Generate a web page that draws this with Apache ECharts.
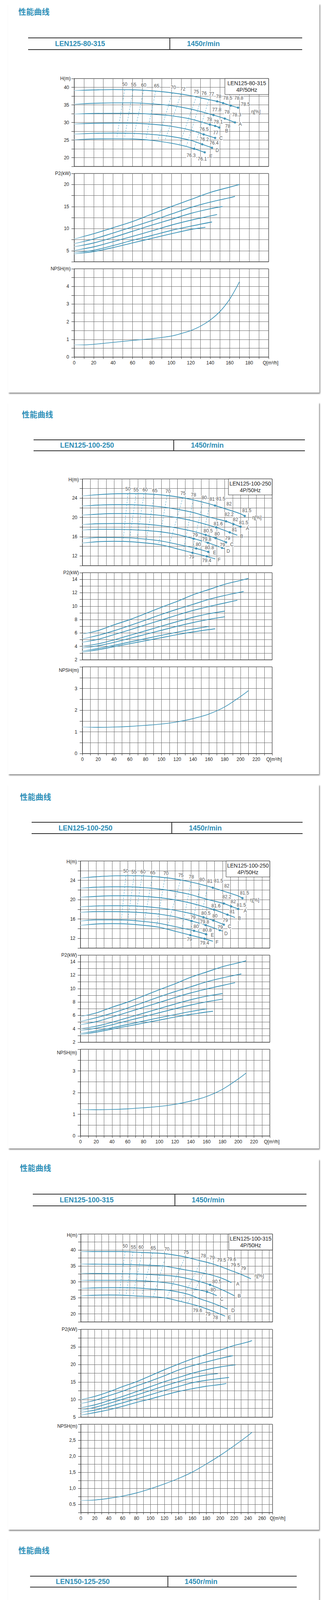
<!DOCTYPE html>
<html><head><meta charset="utf-8">
<script src="https://cdn.jsdelivr.net/npm/echarts@6/dist/echarts.min.js"></script>
<style>
html,body{margin:0;padding:0;background:#fff;}
#page{position:relative;width:835px;height:4883px;overflow:hidden;}
.card{position:absolute;background:#fff;box-shadow:2px 3px 3px rgba(0,0,0,0.45);}
.title{position:absolute;font-family:"Noto Sans CJK SC",sans-serif;font-weight:bold;font-size:20px;color:#2d8fb8;line-height:20px;white-space:nowrap;}
.hline{position:absolute;height:2px;background:#2b2b2b;}
.vline{position:absolute;width:2px;background:#2b2b2b;}
.htext{position:absolute;font-family:"Liberation Sans",Arial,sans-serif;font-weight:bold;font-size:18px;color:#2d8db5;line-height:20px;white-space:nowrap;}
.chart{position:absolute;left:0;width:835px;z-index:2;}
</style></head>
<body><div id="page"></div>
<script>
// ---------------- DATA ----------------
// Panel 1: LEN125-80-315
const P1_Q_AXIS = [0, 200, 10, 20];
const P1_H_AXIS = [17.5, 42.5, 2.5, 5];
const P1_P_AXIS = [2.5, 22.5, 2.5, 5];
const P1_N_AXIS = [0, 5, 0.5, 1];
const P1_H = [
  [[0,39.1],[20,39.25],[40,39.35],[60,39.3],[80,39.0],[100,38.45],[120,37.6],[140,36.4],[147.1,36.0],[153.2,35.5],[161.1,34.8],[168.6,34.2]],
  [[0,35.2],[20,35.45],[40,35.57],[60,35.57],[80,35.3],[100,34.8],[120,33.8],[143.3,32.1],[154.9,31.1],[165.4,30.0]],
  [[0,32.4],[20,32.55],[40,32.6],[60,32.6],[80,32.36],[100,31.9],[120,30.96],[139.6,29.4],[145,29.0],[149.3,28.56]],
  [[0,29.56],[20,29.75],[40,29.8],[60,29.78],[80,29.5],[100,28.9],[120,27.8],[133.2,26.6],[145,25.6]],
  [[0,26.7],[20,26.9],[40,26.97],[60,26.9],[80,26.6],[100,26.0],[120,24.9],[131.7,23.8],[141.8,22.8]],
  [[0,25.1],[20,25.3],[40,25.35],[60,25.3],[80,24.9],[100,24.1],[112,23.4],[123.5,22.5],[134.3,21.5]]
];
const P1_P = [
  [[0,7.65],[20,8.84],[40,10.2],[60,11.6],[80,13.3],[100,15.0],[120,16.6],[140,18.2],[160,19.4],[170,20.0]],
  [[0,6.6],[20,7.65],[40,9.0],[60,10.4],[80,11.8],[100,13.3],[120,14.8],[140,16.0],[160,17.0],[165.4,17.3]],
  [[0,5.9],[20,6.75],[40,8.0],[60,9.4],[80,10.8],[100,12.1],[120,13.45],[140,14.5],[152.5,15.0]],
  [[0,5.06],[20,5.86],[40,7.05],[60,8.24],[80,9.5],[100,10.8],[120,11.9],[140,12.86],[147,13.2]],
  [[0,4.6],[20,5.1],[40,6.16],[60,7.35],[80,8.45],[100,9.6],[120,10.56],[141.8,11.5]],
  [[0,4.28],[20,4.8],[40,5.7],[60,6.76],[80,7.8],[100,8.84],[120,9.8],[135,10.3]]
];
const P1_N = [[0,0.69],[10,0.69],[20,0.72],[40,0.83],[60,0.94],[80,1.04],[100,1.19],[110,1.33],[120,1.5],[130,1.75],[140,2.1],[150,2.58],[160,3.28],[170,4.26]];
const P1_ISO = [
  [[52,39.3],[44,26.0]],[[60.6,39.3],[52,26.0]],[[71.5,39.2],[61.2,26.0]],[[83.8,38.9],[74,25.6]],
  [[101,38.45],[86,24.9]],[[110,38.15],[93.4,24.9]],[[125.7,37.4],[108.5,23.8]],[[131,37.0],[115.6,23.4]],[[138.5,36.5],[123.5,22.65]]
];
const P1_ETA = [
  ['50',52,40.8],['55',61.2,40.74],['60',71.5,40.66],['65',84.8,40.44],['70',102,40.0],['72',111.7,39.5],
  ['75',125.7,38.7],['76',133.6,38.3],['77',141.3,38.1],['78',148.6,37.4],['78.5',157.9,37.0],['78.8',169.3,37.0],
  ['78.5',176.1,35.2],['77.8',146.7,33.6],['78',157.2,32.9],['78.3',167.1,32.2],['78',139.2,30.8],['78.1',148.2,30.2],
  ['78',157.9,29.0],['76.5',133.6,28.1],['77',145.6,27.1],['76.2',133.8,25.2],['76.4',143.9,24.2],['76.3',120.3,20.6],
  ['76.1',131.7,19.6],['η[%]',186.9,33.1],['A',170.8,29.5],['B',156.8,27.6],['C',151,25.5],['D',147.1,22.1],['E',140.7,20.4]
];
const P1_DOTS = [[147.1,36.0],[153.2,35.5],[161.1,34.8],[168.6,34.2],[143.3,32.1],[154.9,31.1],[165.4,30.0],[139.6,29.4],[145,29.0],[149.3,28.56],[133.2,26.6],[145,25.6],[131.7,23.8],[141.8,22.8],[123.5,22.5],[134.3,21.5]];

// Panel 2 / 3: LEN125-100-250
const P2_Q_AXIS = [0, 240, 10, 20];
const P2_H_AXIS = [10, 28, 2, 4];
const P2_P_AXIS = [2, 15, 1, 2];
const P2_N_AXIS = [0, 4, 0.5, 1];
const P2_H = [
  [[0,24.46],[20,24.73],[40,24.9],[60,24.94],[80,24.9],[100,24.67],[120,24.27],[140,23.65],[160,22.84],[167.8,22.46],[180,21.84],[200,20.76],[205.4,20.3]],
  [[0,22.38],[20,22.57],[40,22.65],[60,22.65],[80,22.5],[100,22.19],[120,21.7],[140,21.03],[160,20.09],[181.8,19.2],[191.1,18.6],[200.1,18.07]],
  [[0,20.5],[20,20.68],[40,20.8],[60,20.8],[80,20.68],[100,20.41],[120,19.95],[140,19.28],[169.2,17.93],[186.3,16.9],[196,16.3]],
  [[0,18.52],[20,18.69],[40,18.74],[60,18.74],[80,18.6],[100,18.28],[120,17.8],[140,17.12],[155.9,16.37],[168.4,15.7],[181.8,14.83]],
  [[0,17.39],[20,17.53],[40,17.53],[60,17.47],[80,17.3],[100,16.99],[120,16.45],[140.6,15.6],[158.6,14.75],[176.6,13.7],[180,13.5]],
  [[0,15.58],[20,15.83],[40,15.83],[60,15.77],[80,15.5],[100,15.1],[120,14.43],[144,13.56],[159.1,12.86],[161,12.75]],
  [[0,14.7],[20,14.97],[40,15.05],[60,14.97],[80,14.7],[100,14.29],[120,13.48],[139.3,12.67],[157.3,11.92],[168,11.4]]
];
const P2_P = [
  [[0,5.84],[20,6.37],[40,7.21],[60,7.99],[80,8.9],[100,9.84],[120,10.72],[140,11.7],[160,12.48],[180,13.26],[200,13.84],[210,14.14]],
  [[0,5.1],[20,5.65],[40,6.33],[60,7.11],[80,7.93],[100,8.77],[120,9.55],[140,10.27],[160,11.01],[180,11.6],[200,12.09],[204,12.19]],
  [[0,4.62],[20,5.06],[40,5.75],[60,6.47],[80,7.21],[100,7.93],[120,8.67],[140,9.36],[160,9.94],[180,10.47],[196,10.88]],
  [[0,4.03],[20,4.38],[40,4.97],[60,5.65],[80,6.33],[100,7.02],[120,7.7],[140,8.34],[160,8.87],[180,9.26]],
  [[0,3.76],[20,4.09],[40,4.6],[60,5.2],[80,5.8],[100,6.4],[120,7.0],[140,7.55],[160,8.03],[180,8.42]],
  [[0,3.3],[20,3.7],[40,4.15],[60,4.65],[80,5.15],[100,5.65],[120,6.12],[140,6.58],[160,6.98]],
  [[0,3.15],[20,3.5],[40,3.95],[60,4.4],[80,4.85],[100,5.3],[120,5.75],[140,6.15],[160,6.5],[168,6.62]]
];
const P2_N = [[0,1.22],[20,1.21],[40,1.22],[60,1.25],[80,1.3],[100,1.36],[120,1.46],[140,1.61],[160,1.82],[180,2.15],[200,2.63],[210,2.9]];
const P2_ISO = [
  [[57.6,24.94],[51.5,15.2]],[[68,24.94],[59.5,15.2]],[[78,24.9],[68.7,15.2]],[[91.2,24.8],[80.6,15.1]],
  [[107,24.5],[96.5,14.5]],[[127,24.1],[110,14.3]],[[140,23.6],[128,13.4]],[[152,22.9],[139,13.0]],[[161,22.6],[149,13.5]]
];
const P2_ETA = [
  ['50',57.6,25.9],['55',67.9,25.75],['60',79.3,25.7],['65',91.7,25.6],['70',108.4,25.4],['75',127.4,25.0],
  ['78',140.6,24.7],['80',154.1,24.1],['81',164.1,23.8],['81.5',175,23.9],['82',185.5,22.8],['81.5',208,21.4],
  ['η[%]',220.7,19.95],['82.2',185.5,20.6],['82',193.7,19.6],['81.5',204,18.9],['81.6',171.8,18.7],['81',192.4,17.5],
  ['80.5',159.1,17.2],['80',170.5,16.6],['79',183.7,15.7],['79',142.7,16.3],['79.8',157.3,15.4],['79',177.1,14.3],
  ['80',146.7,14.4],['80.8',160.7,13.7],['79',138.2,11.8],['79.4',157.3,11.05],
  ['A',208.8,17.7],['B',201.4,16.1],['C',189,14.4],['D',184.5,13.0],['E',167.3,12.7],['F',173.1,11.2]
];
const P2_DOTS = [[167.8,22.46],[205.4,20.3],[181.8,19.2],[191.1,18.6],[200.1,18.07],[169.2,17.93],[186.3,16.9],[155.9,16.37],[168.4,15.7],[181.8,14.83],[140.6,15.6],[158.6,14.75],[176.6,13.7],[144,13.56],[159.1,12.86],[139.3,12.67],[157.3,11.92]];

// Panel 4: LEN125-100-315
const P4_Q_AXIS = [0, 275, 10, 20];
const P4_H_AXIS = [17.5, 45, 2.5, 5];
const P4_P_AXIS = [5, 30, 2.5, 5];
const P4_N_AXIS = [0.25, 3, 0.25, 0.5];
const P4_N_LABELS = [[0.5,'0.5'],[1,'1,0'],[1.5,'1,5'],[2,'2,0'],[2.5,'2,5']];
const P4_H = [
  [[0,39.5],[20,39.5],[40,39.5],[60,39.5],[80,39.3],[100,39.1],[120,38.85],[140,38.2],[150,37.8],[170,36.7],[185,35.9],[199,34.9],[215,33.6],[227,32.6],[244,31.0]],
  [[0,35.6],[20,35.55],[60,35.5],[100,35.2],[121,34.9],[149,33.8],[170,33.0],[185,32.3],[201.6,31.2],[216,29.8]],
  [[0,32.7],[40,32.6],[80,32.5],[100,32.3],[134,31.8],[158.5,30.8],[185.4,29.1],[203,27.5],[220,25.7]],
  [[0,30.5],[60,30.5],[80,30.4],[100,30.2],[130.5,29.5],[158.5,28.0],[181,26.9],[195,25.7]],
  [[0,28.0],[40,28.2],[60,28.2],[80,28.1],[100,27.8],[125,27.4],[153,26.2],[171,24.7],[190,23.3],[210.6,21.5]],
  [[0,25.7],[40,25.9],[60,25.85],[80,25.6],[100,25.4],[121,25.0],[143,23.9],[168,22.5],[186.5,21.1],[207,19.3]]
];
const P4_P = [
  [[0,10.0],[20,10.9],[40,12.2],[60,13.7],[80,15.1],[100,16.8],[120,18.5],[140,20.1],[160,21.6],[180,22.9],[200,24.1],[220,25.4],[240,26.4],[245.5,26.8]],
  [[0,8.9],[20,9.8],[40,11.1],[60,12.4],[80,13.9],[100,15.3],[120,16.8],[140,18.4],[160,19.65],[180,20.7],[200,21.7],[218,22.5]],
  [[0,7.7],[20,8.5],[40,9.7],[60,10.9],[80,12.3],[100,13.7],[120,15.1],[140,16.3],[160,17.5],[180,18.5],[200,19.3],[222,19.9]],
  [[0,7.0],[20,7.8],[40,8.9],[60,10.1],[80,11.3],[100,12.6],[120,13.9],[140,15.1],[160,16.2],[180,17.0],[196.7,17.4]],
  [[0,6.4],[20,7.0],[40,8.0],[60,9.1],[80,10.2],[100,11.4],[120,12.6],[140,13.7],[160,14.8],[180,15.5],[200,16.0],[212.6,16.3]],
  [[0,5.6],[20,6.3],[40,7.1],[60,8.1],[80,9.2],[100,10.2],[120,11.3],[140,12.3],[160,13.1],[180,13.8],[200,14.3],[208.7,14.6]]
];
const P4_N = [[0,0.625],[20,0.64],[40,0.69],[60,0.76],[80,0.86],[100,0.99],[120,1.14],[140,1.31],[160,1.51],[180,1.76],[200,2.03],[220,2.33],[240,2.65],[245.5,2.75]];
const P4_ISO = [
  [[63.5,39.5],[55,26.1]],[[74.8,39.4],[65,26.1]],[[88,39.3],[74.8,26.0]],[[103,39.1],[87.4,25.7]],
  [[122.8,38.8],[104,25.3]],[[149.7,37.8],[123,24.9]],[[172.8,36.7],[144,23.8]],[[184.7,35.95],[153,23.3]]
];
const P4_ETA = [
  ['50',63.5,41.2],['55',75.4,40.85],['60',86.5,40.85],['65',103.9,40.65],['70',123.4,40.25],['75',151.2,39.2],
  ['78',175.7,38.1],['79',188.3,37.5],['79.5',201.8,36.8],['79.6',216.2,37.1],['79.5',221.6,35.2],['79',233.2,34.3],
  ['η[%]',256,31.9],['80.5',195.2,30.1],['80',189.8,27.5],['79.6',167.4,21.0],['79',182.3,19.9],['78',193.1,18.8],
  ['A',225.1,29.4],['B',227.2,25.6],['C',202.1,24.65],['D',218.3,21.0],['E',213.2,18.8]
];
const P4_DOTS = [[185.4,29.1],[181,26.9]];

// Panel 5: LEN150-125-250
const P5_Q_AXIS = [0, 425, 25, 50];
const P5_H_AXIS = [5, 27.5, 2.5, 5];
const P5_P_AXIS = [5, 22.5, 2.5, 5];
const P5_N_AXIS = [1, 4.5, 0.5, 1];
const P5_H = [
  [[0,23.3],[50,23.3],[100,23.27],[125,23.2],[150,23.03],[175,22.8],[200,22.4],[225,21.8],[255.1,21.06],[272.8,20.5],[289.6,19.85],[306.3,19.1],[323,18.4],[350,16.7],[371,15.4]],
  [[0,21.4],[50,21.3],[100,21.1],[150,20.8],[175,20.5],[200,20.1],[225,19.5],[256.5,18.5],[274.2,17.95],[291,17.2],[325,15.6],[340,14.8]],
  [[0,19.2],[50,19.5],[100,19.5],[150,19.2],[175,19.0],[200,18.5],[225,17.8],[250,16.95],[268.5,16.1],[300,14.9],[325,13.9],[351,12.6]],
  [[0,17.5],[50,17.85],[75,17.9],[100,17.8],[150,17.3],[175,17.0],[200,16.4],[225,15.6],[251.3,14.4],[275,13.5],[300,12.6],[336,11.1]],
  [[0,15.95],[50,16.3],[75,16.3],[100,16.1],[150,15.7],[175,15.3],[200,14.7],[225,14.05],[245.5,13.26],[275,12.0],[300,10.6],[322,9.1]],
  [[0,14.8],[50,15.2],[75,15.2],[100,15.0],[125,14.7],[150,14.2],[175,13.7],[200,13.1],[225,12.4],[238.3,11.8],[250,11.4],[275,10.3],[300,8.9],[321,7.4]]
];
const P5_P = [
  [[0,9.15],[25,9.7],[50,10.4],[75,11.4],[100,12.4],[125,13.3],[150,14.2],[175,15.2],[200,16.1],[225,17.0],[250,17.8],[275,18.45],[300,19.1],[325,19.65],[350,20.0],[371,20.2]],
  [[0,8.5],[25,8.9],[50,9.55],[75,10.4],[100,11.2],[125,12.04],[150,12.85],[175,13.65],[200,14.45],[225,15.2],[250,16.0],[275,16.5],[300,16.9],[325,17.3],[340,17.6]],
  [[0,7.55],[25,8.1],[50,8.9],[75,9.6],[100,10.3],[125,10.95],[150,11.6],[175,12.3],[200,12.95],[225,13.6],[250,14.2],[275,14.6],[300,14.96],[325,15.2],[351,15.3]],
  [[0,6.5],[25,7.0],[50,7.6],[75,8.25],[100,8.9],[125,9.5],[150,10.1],[175,10.7],[200,11.3],[225,11.75],[250,12.1],[275,12.45],[300,12.7],[334,12.85]],
  [[0,6.2],[25,6.7],[50,7.27],[75,7.8],[100,8.28],[125,8.8],[150,9.3],[175,9.8],[200,10.3],[225,10.7],[250,11.0],[275,11.24],[300,11.35],[322,11.37]],
  [[0,5.67],[25,6.2],[50,6.74],[75,7.3],[100,7.8],[125,8.25],[150,8.67],[175,9.0],[200,9.28],[225,9.55],[250,9.77],[275,9.9],[300,9.96],[321,9.96]]
];
const P5_N = [[0,1.49],[25,1.51],[50,1.51],[75,1.5],[100,1.48],[125,1.48],[150,1.48],[175,1.51],[200,1.57],[225,1.68],[250,1.86],[275,2.13],[300,2.42],[325,2.8],[350,3.41],[371,4.03]];
const P5_ISO = [
  [[98.6,23.3],[90,15.1]],[[112.5,23.3],[104,15.0]],[[128,23.2],[118.7,14.9]],[[149.8,23.0],[133,14.6]],
  [[173.7,22.8],[157,14.2]],[[200,22.4],[181,13.6]],[[228.8,21.7],[204.8,12.9]]
];
const P5_ETA = [
  ['50',94.8,24.6],['55',111.5,24.5],['60',127.3,24.4],['65',148.4,24.5],['70',169.9,24.1],['75',197.7,23.7],
  ['78',215.4,23.5],['80',231.2,23.4],['81',247,23.3],['82',262.3,22.8],['83',280.5,22.8],['83.3',294.3,21.2],
  ['83',314,21.2],['82',326.9,19.75],['81',342.7,19.2],['80',359,18.2],['78',377.1,16.8],['η[%]',394.8,14.5],
  ['81.5',260.8,19.5],['82',279,18.9],['81.5',304.4,17.95],['81.5',265.1,14.9],['75',340.3,11.0],
  ['A',348.4,14.2],['B',359.4,11.6],['C',345,9.4],['D',331.7,8.4],['E',329.3,6.8]
];
const P5_ETA_SMALL = [['80.1',211,11.5],['79',234.5,10.25],['81.5',256.5,9.4]];
const P5_DOTS = [[255.1,21.06],[272.8,20.5],[289.6,19.85],[306.3,19.1],[323,18.4],[256.5,18.5],[274.2,17.95],[291,17.2],[268.5,16.1],[251.3,14.4],[245.5,13.26],[238.3,11.8]];

// ---------------- LAYOUT ----------------
const LAYOUT = [
  {card:[21,9,797,996],   title:[47,30],   hd:[97,127,72,774,435,141,479],     g:[[190,201,498,225],[190,444,498,226],[190,688,498,226]], qGap:5,  nDy:[0,0,0]},
  {card:[21,1030,796,952],title:[56,1061], hd:[1126,1154,86,781,445,154,489],  g:[[211,1226,486,222],[211,1466,486,223],[211,1707,486,222]], qGap:5, nDy:[-2,0,-9]},
  {card:[21,2008,796,932],title:[51,2040], hd:[2105,2134,81,775,440,150,484],  g:[[206,2204,485,223],[206,2445,485,223],[206,2686,485,222]], qGap:5, nDy:[-2,0,-9]},
  {card:[21,2967,796,949],title:[51,2990], hd:[3057,3087,84,785,448,153,491],  g:[[207,3159,491,225],[207,3403,491,225],[207,3646,491,226]], qGap:13, nDy:[-3,0,-5]},
  {card:[21,3936,796,960],title:[47,3969], hd:[4035,4063,77,760,430,143,473],  g:[[199,4132,475,217],[199,4367,475,218],[199,4602,475,218]], qGap:9, nDy:[-2,0,-4]}
];

const PANELS = [
  {model:'LEN125-80-315',  speed:'1450r/min', q:P1_Q_AXIS, h:P1_H_AXIS, p:P1_P_AXIS, n:P1_N_AXIS, H:P1_H, P:P1_P, N:P1_N, iso:P1_ISO, eta:P1_ETA, dots:P1_DOTS},
  {model:'LEN125-100-250', speed:'1450r/min', q:P2_Q_AXIS, h:P2_H_AXIS, p:P2_P_AXIS, n:P2_N_AXIS, H:P2_H, P:P2_P, N:P2_N, iso:P2_ISO, eta:P2_ETA, dots:P2_DOTS},
  {model:'LEN125-100-250', speed:'1450r/min', q:P2_Q_AXIS, h:P2_H_AXIS, p:P2_P_AXIS, n:P2_N_AXIS, H:P2_H, P:P2_P, N:P2_N, iso:P2_ISO, eta:P2_ETA, dots:P2_DOTS},
  {model:'LEN125-100-315', speed:'1450r/min', q:P4_Q_AXIS, h:P4_H_AXIS, p:P4_P_AXIS, n:P4_N_AXIS, nLabels:P4_N_LABELS, H:P4_H, P:P4_P, N:P4_N, iso:P4_ISO, eta:P4_ETA, dots:P4_DOTS},
  {model:'LEN150-125-250', speed:'1450r/min', q:P5_Q_AXIS, h:P5_H_AXIS, p:P5_P_AXIS, n:P5_N_AXIS, H:P5_H, P:P5_P, N:P5_N, iso:P5_ISO, eta:P5_ETA, etaSmall:P5_ETA_SMALL, dots:P5_DOTS}
];

// ---------------- HTML decorations ----------------
const page = document.getElementById('page');
function div(cls, css, text){
  const d = document.createElement('div'); d.className = cls;
  Object.assign(d.style, css); if (text) d.textContent = text;
  page.appendChild(d); return d;
}
PANELS.forEach((pn, i) => {
  const [cx,cy,cw,ch] = LAYOUT[i].card;
  div('card', {left:cx+'px', top:cy+'px', width:cw+'px', height:ch+'px', zIndex:0});
});
PANELS.forEach((pn, i) => {
  const L = LAYOUT[i];
  div('title', {left:L.title[0]+'px', top:(L.title[1]-10)+'px', zIndex:1}, '性能曲线');
  const [y1,y2,x1,x2,xd,tm,ts] = L.hd;
  div('hline', {left:x1+'px', top:(y1-1)+'px', width:(x2-x1)+'px', zIndex:1});
  div('hline', {left:x1+'px', top:(y2-1)+'px', width:(x2-x1)+'px', zIndex:1});
  div('vline', {left:(xd-1)+'px', top:y1+'px', height:(y2-y1)+'px', zIndex:1});
  const my = (y1+y2)/2 - 10;
  div('htext', {left:tm+'px', top:my+'px', zIndex:1}, pn.model);
  div('htext', {left:ts+'px', top:my+'px', zIndex:1}, pn.speed);
});

// ---------------- CHARTS (one SVG instance per panel) ----------------
const FONT = "'Liberation Sans', Arial, sans-serif";
const CURVE = '#3690b5';
const FADE = '#b4d6e4';
const GRIDC = '#6a6a6a';
const AXC = '#2a2a2a';

function fmt(step, max, map){
  return function(v){
    if (map){ for (const [k,t] of map) if (Math.abs(v-k) < 1e-6) return t; return ''; }
    const r = v/step;
    if (Math.abs(r - Math.round(r)) > 1e-6 || Math.abs(v - max) < 1e-6) return '';
    return String(Math.round(v*100)/100);
  };
}
// light start segment (first ~6% of the axis), as in the printed curves
function curveColor(c, qmax){
  const qEnd = c[c.length-1][0];
  const f = Math.min(0.5, (qmax*0.06) / qEnd);
  return new echarts.graphic.LinearGradient(0, 0, 1, 0, [
    {offset:0, color:FADE}, {offset:f, color:CURVE}, {offset:1, color:CURVE}
  ]);
}

PANELS.forEach((pn, i) => {
  const L = LAYOUT[i];
  const top0 = L.g[0][1] - 30;
  const bot0 = L.g[2][1] + L.g[2][3] + 40;
  const el = div('chart', {top:top0+'px', height:(bot0-top0)+'px'});
  const grids = [], xAxes = [], yAxes = [], series = [], graphics = [];
  const ys = [pn.h, pn.p, pn.n];
  const names = ['H(m)', 'P2(kW)', 'NPSH(m)'];
  for (let k = 0; k < 3; k++){
    const gi = k;
    const gl = L.g[k][0], gt = L.g[k][1] - top0, gw = L.g[k][2], gh = L.g[k][3];
    grids.push({left:gl, top:gt, width:gw, height:gh, show:true, borderColor:AXC, borderWidth:1, backgroundColor:'transparent'});
    const bottom = (k === 2);
    xAxes.push({
      type:'value', gridIndex:gi, min:pn.q[0], max:pn.q[1], interval:pn.q[2],
      axisLine:{show:true, onZero:false, lineStyle:{color:AXC, width:1}},
      axisTick:{show:bottom, length:5, lineStyle:{color:AXC}},
      axisLabel:{show:bottom, margin:9, color:'#222', fontSize:12, fontFamily:FONT, formatter:fmt(pn.q[3], pn.q[1])},
      splitLine:{show:true, lineStyle:{color:GRIDC, width:1}},
      name: bottom ? 'Q[m³/h]' : '', nameLocation:'end', nameGap:L.qGap,
      nameTextStyle:{align:'center', verticalAlign:'top', padding:[9,0,0,0], color:'#222', fontSize:12, fontFamily:FONT}
    });
    const ya = ys[k];
    yAxes.push({
      type:'value', gridIndex:gi, min:ya[0], max:ya[1], interval:ya[2],
      axisLine:{show:true, onZero:false, lineStyle:{color:AXC, width:1}},
      axisTick:{show:true, length:7, lineStyle:{color:AXC}},
      axisLabel:{margin:13, color:'#222', fontSize:12, fontFamily:FONT, formatter:fmt(ya[3], ya[1], (k===2 ? pn.nLabels : null))},
      splitLine:{show:true, lineStyle:{color:GRIDC, width:1}},
      name:names[k], nameLocation:'end', nameGap:L.nDy[k],
      nameTextStyle:{align:'right', verticalAlign:'middle', padding:[0,9,0,0], color:'#222', fontSize:12, fontFamily:FONT}
    });
    const curves = k === 0 ? pn.H : (k === 1 ? pn.P : [pn.N]);
    curves.forEach(c => series.push({
      type:'line', xAxisIndex:gi, yAxisIndex:gi, data:c, showSymbol:false, smooth:0.35, silent:true,
      lineStyle:{color:curveColor(c, pn.q[1]), width:k === 2 ? 1.6 : 1.9}, z:3
    }));
    if (k === 0){
      pn.iso.forEach(seg => series.push({
        type:'line', xAxisIndex:gi, yAxisIndex:gi, data:seg, showSymbol:false, silent:true,
        lineStyle:{color:'#4fa3c6', width:1, type:[4,3]}, z:2
      }));
      series.push({
        type:'scatter', xAxisIndex:gi, yAxisIndex:gi, data:pn.dots, symbolSize:6, silent:true,
        itemStyle:{color:'#2f8ab0'}, z:5
      });
      const lab = (arr, fs) => series.push({
        type:'scatter', xAxisIndex:gi, yAxisIndex:gi, symbolSize:1, silent:true, z:6,
        itemStyle:{color:'rgba(0,0,0,0)'},
        data:arr.map(e => ({name:e[0], value:[e[1], e[2]]})),
        label:{show:true, position:'inside', formatter:p => p.name, color:'#222', fontSize:fs, fontFamily:FONT,
               backgroundColor:'#fff', padding:[0,1]}
      });
      lab(pn.eta, 12);
      if (pn.etaSmall) lab(pn.etaSmall, 10);
      const bw = 112, bh = 41;
      graphics.push({type:'rect', z:100, shape:{x:gl+gw-bw, y:gt, width:bw, height:bh}, style:{fill:'#fff', stroke:AXC, lineWidth:1}});
      graphics.push({type:'text', z:101, x:gl+gw-bw/2, y:gt+12, style:{text:pn.model, fill:'#222', font:'14px '+FONT, align:'center', verticalAlign:'middle'}});
      graphics.push({type:'text', z:101, x:gl+gw-bw/2, y:gt+29, style:{text:'4P/50Hz', fill:'#222', font:'14px '+FONT, align:'center', verticalAlign:'middle'}});
    }
  }
  const chart = echarts.init(el, null, {renderer:'svg'});
  chart.setOption({animation:false, backgroundColor:'transparent', grid:grids, xAxis:xAxes, yAxis:yAxes, series:series, graphic:graphics});
});
</script>
</body></html>
